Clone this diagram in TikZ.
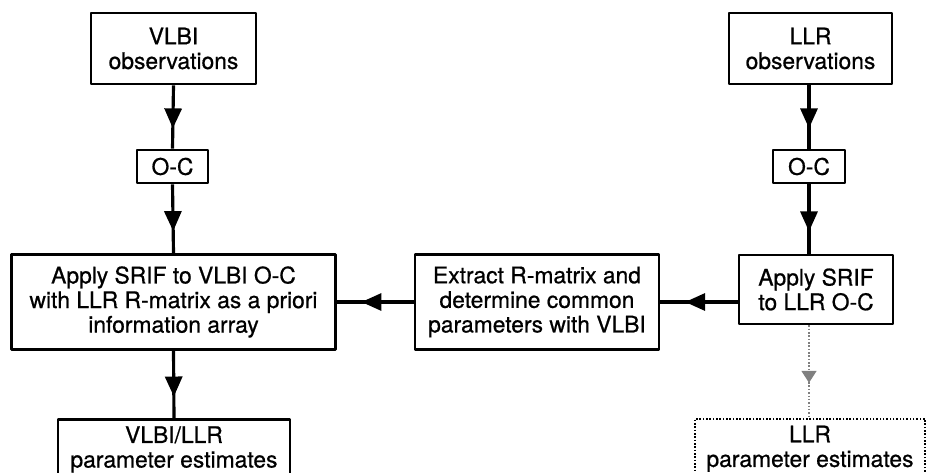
\documentclass[tikz,border=0pt]{standalone}
\usepackage{fontspec}
\setmainfont{TeX Gyre Heros}
\newfontfamily\scanfont{TeX Gyre Heros}[BoldFont={TeX Gyre Heros}, BoldFeatures={FakeBold=0.7}]
\usepackage{tikz}
\usetikzlibrary{arrows.meta, positioning, calc, decorations.markings}

\begin{document}
\begin{tikzpicture}[x=0.02cm, y=-0.02cm, line join=round,
        procbox/.style={draw, line width=1.6pt, align=center, inner sep=0pt,
            font=\scanfont\bfseries\fontsize{13}{14}\selectfont},
        outbox/.style={draw, densely dotted, line width=0.9pt, align=center, inner sep=0pt,
            font=\scanfont\bfseries\fontsize{13}{14}\selectfont},
        flow/.style={line width=1.8pt, postaction={decorate},
            decoration={markings, mark=at position 0.68 with
                {\arrow{Triangle[length=0.4cm, width=0.34cm]}}}},
        weakflow/.style={gray, densely dotted, line width=0.9pt, postaction={decorate},
            decoration={markings, mark=at position 0.62 with
                {\arrow[fill=gray!35, solid]{Triangle[length=0.24cm, width=0.3cm]}}}}]
    \useasboundingbox (0,0) rectangle (926,473);
    \clip (0,0) rectangle (926,473);

    % VLBI branch
    \node[procbox, minimum width=3.3cm, minimum height=1.42cm] (vobs) at (173.5,48.5)
        {VLBI\\observations};
    \node[procbox, minimum width=1.42cm, minimum height=0.66cm] (voc) at (172.5,166.5) {O-C};
    \node[procbox, minimum width=6.48cm, minimum height=1.9cm] (vsrif) at (173.5,302)
        {Apply SRIF to VLBI O-C\\with LLR R-matrix as a priori\\information array};
    \node[procbox, minimum width=4.64cm, minimum height=1.2cm, anchor=north] (vest) at (174,418)
        {VLBI/LLR\\parameter estimates};

    % LLR branch
    \node[procbox, minimum width=3.26cm, minimum height=1.42cm] (lobs) at (810.5,48.5)
        {LLR\\observations};
    \node[procbox, minimum width=1.44cm, minimum height=0.66cm] (loc) at (809,166.5) {O-C};
    \node[procbox, minimum width=3.08cm, minimum height=1.38cm] (lsrif) at (816,289.5)
        {Apply SRIF\\to LLR O-C};
    \node[procbox, minimum width=4.88cm, minimum height=1.9cm] (extract) at (537,302)
        {Extract R-matrix and\\determine common\\parameters with VLBI};
    \node[outbox, minimum width=4.6cm, minimum height=1.2cm, anchor=north] (lest) at (810,418)
        {LLR\\parameter estimates};

    \draw[flow] (vobs.south) -- (voc.north);
    \draw[flow] (voc.south) -- (vsrif.north);
    \draw[flow] (vsrif.south) -- (vest.north);
    \draw[flow] (lobs.south -| loc.north) -- (loc.north);
    \draw[flow] (loc.south) -- (loc.south |- lsrif.north);
    \draw[flow] (lsrif.west |- extract.east) -- (extract.east);
    \draw[flow] (extract.west) -- (vsrif.east);
    \draw[weakflow] (loc.south |- lsrif.south) -- (loc.south |- lest.north);
\end{tikzpicture}
\end{document}
